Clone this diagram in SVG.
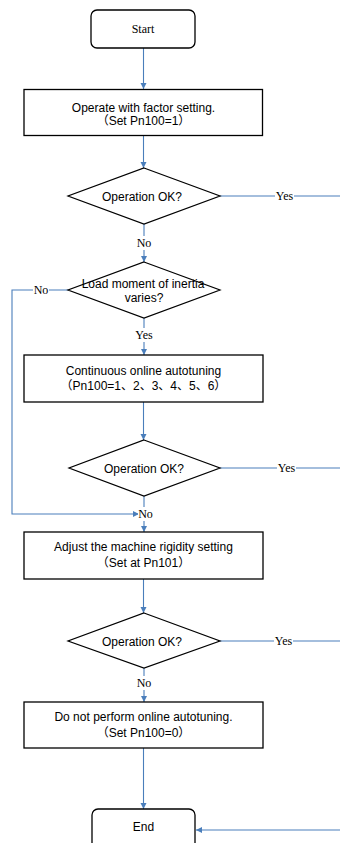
<svg xmlns="http://www.w3.org/2000/svg" width="340" height="843" viewBox="0 0 340 843">
<style>
.box{fill:#fff;stroke:#000;stroke-width:1.3}
.dia{fill:#fff;stroke:#000;stroke-width:1.2}
.t{font-family:"Liberation Sans","Noto Sans CJK SC",Arial,sans-serif;font-size:12px;fill:#000;text-anchor:middle}
.s{font-family:"Liberation Serif","Times New Roman",serif;font-size:12px;fill:#000;text-anchor:middle}
.c{fill:none;stroke:#4a7ebb;stroke-width:1.1}
.bg{fill:#fff}
</style>
<defs>
<marker id="ah" markerUnits="userSpaceOnUse" markerWidth="7" markerHeight="7" refX="6" refY="3" orient="auto">
<path d="M0,0 L6,3 L0,6 z" fill="#4a7ebb"/>
</marker>
</defs>
<g id="connectors">
<path class="c" d="M143.5,48 V89" marker-end="url(#ah)"/>
<path class="c" d="M143.5,136 V168" marker-end="url(#ah)"/>
<path class="c" d="M220,196 H340"/>
<rect class="bg" x="275" y="189" width="19" height="14"/>
<text class="s" x="284.5" y="200">Yes</text>
<path class="c" d="M144,224 V262" marker-end="url(#ah)"/>
<rect class="bg" x="136" y="236" width="16" height="14"/>
<text class="s" x="144" y="247">No</text>
<path class="c" d="M68,290 H12 V514 H139" marker-end="url(#ah)"/>
<rect class="bg" x="33" y="283" width="16" height="14"/>
<text class="s" x="41" y="294">No</text>
<path class="c" d="M144,318 V355" marker-end="url(#ah)"/>
<rect class="bg" x="134" y="328" width="20" height="14"/>
<text class="s" x="144" y="339">Yes</text>
<path class="c" d="M143.5,402 V440" marker-end="url(#ah)"/>
<path class="c" d="M220,468 H340"/>
<rect class="bg" x="277" y="461" width="19" height="14"/>
<text class="s" x="286.5" y="472">Yes</text>
<path class="c" d="M144,496 V532" marker-end="url(#ah)"/>
<rect class="bg" x="138" y="507" width="15" height="14"/>
<text class="s" x="145.5" y="518">No</text>
<path class="c" d="M143.5,579 V613" marker-end="url(#ah)"/>
<path class="c" d="M220,641 H340"/>
<rect class="bg" x="274" y="634" width="19" height="14"/>
<text class="s" x="283.5" y="645">Yes</text>
<path class="c" d="M144,668 V702" marker-end="url(#ah)"/>
<rect class="bg" x="136" y="676" width="16" height="14"/>
<text class="s" x="144" y="687">No</text>
<path class="c" d="M143.5,748 V809" marker-end="url(#ah)"/>
<path class="c" d="M340,830 H196" marker-end="url(#ah)"/>
</g>
<g id="start">
<rect class="box" x="91" y="10" width="104" height="38" rx="6"/>
<text class="s" x="143" y="33">Start</text>
</g>
<g id="factor">
<rect class="box" x="24" y="89.5" width="238.5" height="46"/>
<text class="t" x="143.5" y="111.5">Operate with factor setting.</text>
<text class="t" x="143.5" y="125">（Set Pn100=1）</text>
</g>
<g id="check1">
<polygon class="dia" points="144,168 220,196 144,224 68,196"/>
<text class="t" x="142" y="200.5">Operation OK?</text>
</g>
<g id="inertia">
<polygon class="dia" points="144,262 220,290 144,318 68,290"/>
<text class="t" x="143" y="287.5">Load moment of inertia</text>
<text class="t" x="144" y="301.5">varies?</text>
</g>
<g id="online">
<rect class="box" x="24" y="355" width="239" height="47"/>
<text class="t" x="143.5" y="375">Continuous online autotuning</text>
<text class="t" x="143.5" y="390">（Pn100=1、2、3、4、5、6）</text>
</g>
<g id="check2">
<polygon class="dia" points="144,440 220,468 144,496 69,468"/>
<text class="t" x="144" y="472.5">Operation OK?</text>
</g>
<g id="rigidity">
<rect class="box" x="24" y="532" width="239" height="47"/>
<text class="t" x="143.5" y="551">Adjust the machine rigidity setting</text>
<text class="t" x="143.5" y="567">（Set at Pn101）</text>
</g>
<g id="check3">
<polygon class="dia" points="144,613 220,641 144,668 68,641"/>
<text class="t" x="142" y="645.5">Operation OK?</text>
</g>
<g id="nooffline">
<rect class="box" x="24" y="702" width="239" height="46"/>
<text class="t" x="143.5" y="721">Do not perform online autotuning.</text>
<text class="t" x="143.5" y="737">（Set Pn100=0）</text>
</g>
<g id="end">
<rect class="box" x="92" y="809" width="103" height="40" rx="6"/>
<text class="t" x="143.5" y="831">End</text>
</g>
</svg>
